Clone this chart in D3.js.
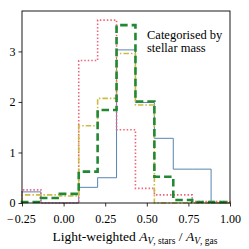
<!DOCTYPE html>
<html lang="en">
<head>
    <meta charset="UTF-8">
    <title>Light-weighted A_V ratio histogram</title>
    <script src="https://d3js.org/d3.v7.min.js"></script>
    <style>
        body { margin: 0; padding: 0; background: #fff; }
        svg { display: block; }
        text { fill: #000; }
    </style>
</head>
<body>
    <svg id="chart" width="249" height="249"></svg>
    <script>
        // bin edges (11 bins from -0.25 to 1.0)
        const binEdges = [-0.25, -0.1364, -0.0227, 0.0909, 0.2045, 0.3182, 0.4318, 0.5455, 0.6591, 0.7727, 0.8864, 1.0];

        // histogram heights per series
        const blueVals   = [0.22, 0, 0, 0.31, 0.50, 3.03, 1.99, 1.28, 0.67, 0.67, 0];
        const redVals    = [0.26, 0, 0, 2.82, 3.62, 1.45, 0.29, 0.16, 0.16, 0.03, 0.03];
        const yellowVals = [0.16, 0.16, 0.14, 1.53, 2.07, 2.96, 1.94, 0, 0, 0, 0];
        const greenVals  = [0.02, 0.10, 0.18, 0.62, 1.84, 3.52, 2.01, 0.52, 0.06, 0.02, 0.02];

        const xTicks = [-0.25, 0, 0.25, 0.5, 0.75, 1.0];
        const yTicks = [0, 1, 2, 3];

        const width = 249, height = 249;
        const margin = { top: 11, right: 19, bottom: 46, left: 22 };
        const serif = '"Liberation Serif", "DejaVu Serif", serif';

        const svg = d3.select('#chart');

        const x = d3.scaleLinear().domain([-0.25, 1.0]).range([margin.left, width - margin.right]);
        const y = d3.scaleLinear().domain([0, 3.8]).range([height - margin.bottom, margin.top]);

        const series = [
            { vals: blueVals,   color: '#4477AA', width: 0.9, dash: null },
            { vals: redVals,    color: '#EE6677', width: 1.6, dash: '1.5,2' },
            { vals: yellowVals, color: '#CCBB44', width: 1.6, dash: '5.5,2,1.5,2' },
            { vals: greenVals,  color: '#228833', width: 2.6, dash: '7.5,4' }
        ];

        // step outline like matplotlib histtype='step'
        function stepPoints(vals) {
            const pts = [[binEdges[0], 0]];
            vals.forEach((v, i) => {
                pts.push([binEdges[i], v]);
                pts.push([binEdges[i + 1], v]);
            });
            pts.push([binEdges[binEdges.length - 1], 0]);
            return pts;
        }

        const line = d3.line().x(d => x(d[0])).y(d => y(d[1]));

        const plot = svg.append('g');
        series.forEach(s => {
            plot.append('path')
                .attr('d', line(stepPoints(s.vals)))
                .attr('fill', 'none')
                .attr('stroke', s.color)
                .attr('stroke-width', s.width)
                .attr('stroke-dasharray', s.dash)
                .attr('stroke-linejoin', 'miter');
        });

        // frame
        svg.append('rect')
            .attr('x', x(-0.25))
            .attr('y', y(3.8))
            .attr('width', x(1.0) - x(-0.25))
            .attr('height', y(0) - y(3.8))
            .attr('fill', 'none')
            .attr('stroke', '#000')
            .attr('stroke-width', 0.9);

        const fmt = d => (d < 0 ? '\u2212\u200a' : '') + d3.format('.2f')(Math.abs(d));

        const xAxis = svg.append('g')
            .attr('transform', `translate(0,${height - margin.bottom})`)
            .call(d3.axisBottom(x).tickValues(xTicks).tickFormat(fmt).tickSize(3.5).tickPadding(8));
        const yAxis = svg.append('g')
            .attr('transform', `translate(${margin.left},0)`)
            .call(d3.axisLeft(y).tickValues(yTicks).tickFormat(d3.format('d')).tickSize(3.5).tickPadding(3));

        [xAxis, yAxis].forEach(a => {
            a.attr('font-family', serif).attr('font-size', 12);
            a.select('.domain').remove();
            a.selectAll('.tick line').attr('stroke', '#000').attr('stroke-width', 0.8);
        });
        // matplotlib centres the whole label, minus included
        xAxis.selectAll('.tick text').attr('dx', d => d < 0 ? '-0.1em' : null);

        // x label
        const lab = svg.append('text')
            .attr('x', (x(-0.25) + x(1.0)) / 2 + 9)
            .attr('y', 241)
            .attr('text-anchor', 'middle')
            .attr('font-family', serif)
            .attr('font-size', 13.5);
        lab.append('tspan').text('Light-weighted ');
        lab.append('tspan').attr('font-style', 'italic').text('A');
        lab.append('tspan').attr('font-size', 9.5).attr('dy', 2.5).attr('font-style', 'italic').text('V');
        lab.append('tspan').attr('font-size', 9.5).text(', stars');
        lab.append('tspan').attr('dy', -2.5).text(' / ');
        lab.append('tspan').attr('font-style', 'italic').text('A');
        lab.append('tspan').attr('font-size', 9.5).attr('dy', 2.5).attr('font-style', 'italic').text('V');
        lab.append('tspan').attr('font-size', 9.5).text(', gas');

        // annotation
        const note = svg.append('text').attr('font-family', serif).attr('font-size', 12.5);
        note.append('tspan').attr('x', 147).attr('y', 39).text('Categorised by');
        note.append('tspan').attr('x', 147).attr('y', 52).text('stellar mass');
    </script>
</body>
</html>
